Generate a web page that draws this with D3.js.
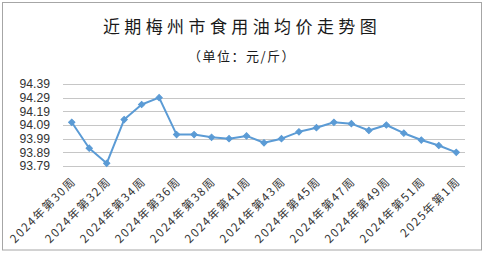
<!DOCTYPE html>
<html>
<head>
<meta charset="utf-8">
<script src="https://cdn.jsdelivr.net/npm/d3@7"></script>
<style>
  html, body { margin: 0; padding: 0; background: #fff; }
  svg { display: block; }
</style>
</head>
<body>
<svg id="chart"></svg>
<script>
const weeks = [
  '2024年第30周', '2024年第31周', '2024年第32周', '2024年第33周', '2024年第34周',
  '2024年第35周', '2024年第36周', '2024年第37周', '2024年第38周', '2024年第39周',
  '2024年第41周', '2024年第42周', '2024年第43周', '2024年第44周', '2024年第45周',
  '2024年第46周', '2024年第47周', '2024年第48周', '2024年第49周', '2024年第50周',
  '2024年第51周', '2024年第52周', '2025年第1周'
]
const prices = [
  94.11, 93.92, 93.81, 94.13, 94.24, 94.29, 94.02, 94.02, 94.00, 93.99,
  94.01, 93.96, 93.99, 94.04, 94.07, 94.11, 94.10, 94.05, 94.09, 94.03,
  93.98, 93.94, 93.89
]
const yTicks = [93.79, 93.89, 93.99, 94.09, 94.19, 94.29, 94.39]
const titleText = '近期梅州市食用油均价走势图'
const subtitleText = '（单位：元/斤）'

const width = 484, height = 254
const margin = {top: 84, right: 19, bottom: 88, left: 63}
const blue = '#5b9bd5'

const svg = d3.select('#chart').attr('width', width).attr('height', height)

// outer frame
svg.append('rect')
  .attr('x', 2.5).attr('y', 2.5)
  .attr('width', 479).attr('height', 247.5)
  .attr('fill', '#fff')
  .attr('stroke', '#a6a6a6')
  .attr('stroke-width', 1)

svg.append('text')
  .attr('x', 242).attr('y', 33)
  .attr('text-anchor', 'middle')
  .attr('font-family', '"Noto Sans CJK SC", sans-serif')
  .attr('font-size', 17)
  .attr('letter-spacing', 4.4)
  .attr('fill', '#1a1a1a')
  .text(titleText)

svg.append('text')
  .attr('x', 242).attr('y', 61)
  .attr('text-anchor', 'middle')
  .attr('font-family', '"Noto Sans CJK SC", sans-serif')
  .attr('font-size', 13)
  .attr('letter-spacing', 1.5)
  .attr('fill', '#1a1a1a')
  .text(subtitleText)

const x = d3.scaleBand()
  .domain(weeks)
  .range([margin.left, width - margin.right])

const y = d3.scaleLinear()
  .domain([93.79, 94.39])
  .range([height - margin.bottom, margin.top])

// grid lines
svg.append('g')
  .selectAll('line')
  .data(yTicks)
  .join('line')
  .attr('x1', margin.left).attr('x2', width - margin.right)
  .attr('y1', d => Math.round(y(d)) + 0.5).attr('y2', d => Math.round(y(d)) + 0.5)
  .attr('stroke', '#c6c6c6')
  .attr('stroke-width', 1)

// y axis labels
const yAxis = d3.axisLeft(y).tickValues(yTicks).tickFormat(d3.format('.2f')).tickSize(0).tickPadding(13)
svg.append('g')
  .attr('transform', `translate(${margin.left},0)`)
  .call(yAxis)
  .call(g => g.select('.domain').remove())
  .call(g => g.selectAll('text')
    .attr('font-family', '"Liberation Sans", Arial, sans-serif')
    .attr('font-size', 12.2)
    .attr('fill', '#333'))

// x axis labels, every other category
const xAxis = d3.axisBottom(x)
  .tickValues(weeks.filter((d, i) => i % 2 === 0))
  .tickSize(0)
svg.append('g')
  .attr('transform', `translate(0,${height - margin.bottom})`)
  .call(xAxis)
  .call(g => g.select('.domain').remove())
  .call(g => g.selectAll('text')
    .attr('font-family', '"Noto Sans CJK SC", sans-serif')
    .attr('font-size', 11.5)
    .attr('letter-spacing', 1.6)
    .attr('fill', '#333')
    .attr('text-anchor', 'end')
    .attr('dy', null)
    .attr('y', 0)
    .attr('transform', 'translate(5,16) rotate(-45)'))

const line = d3.line()
  .x((d, i) => x(weeks[i]) + x.bandwidth() / 2)
  .y(d => y(d))

svg.append('path')
  .datum(prices)
  .attr('fill', 'none')
  .attr('stroke', blue)
  .attr('stroke-width', 2)
  .attr('stroke-linejoin', 'round')
  .attr('d', line)

svg.append('g')
  .selectAll('path')
  .data(prices)
  .join('path')
  .attr('transform', (d, i) => `translate(${x(weeks[i]) + x.bandwidth() / 2},${y(d)}) rotate(45)`)
  .attr('d', d3.symbol(d3.symbolSquare, 20))
  .attr('fill', blue)
  .attr('stroke', blue)
  .attr('stroke-width', 1)
</script>
</body>
</html>
